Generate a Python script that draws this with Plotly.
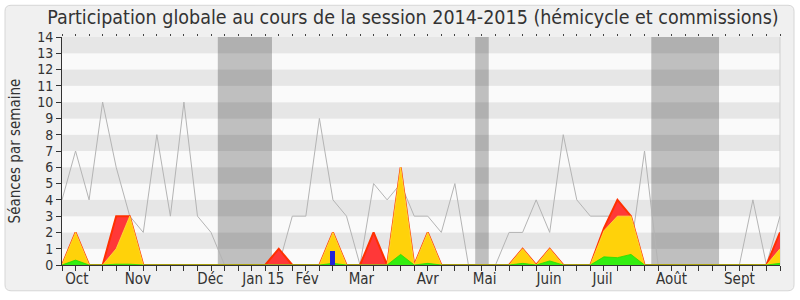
import plotly.graph_objects as go

# ---- data (weekly, session 2014-2015) ----
weeks = list(range(54))
seances_total = [4, 7, 4, 10, 6, 3, 2, 8, 3, 10, 3, 2, 0, 0, 0, 0, 0, 3, 3, 9,
                 4, 3, 0, 5, 4, 5, 3, 3, 2, 5, 0, 0, 0, 2, 2, 4, 2, 8, 4, 3,
                 3, 3, 1, 7, 0, 0, 0, 0, 0, 0, 0, 4, 0, 3]
presence_red = [0, 2, 0, 0, 3, 3, 0, 0, 0, 0, 0, 0, 0, 0, 0, 0, 1, 0, 0, 0,
                2, 0, 0, 2, 0, 6, 0, 2, 0, 0, 0, 0, 0, 0, 1, 0, 1, 0, 0, 0,
                2.25, 4, 3, 0, 0, 0, 0, 0, 0, 0, 0, 0, 0, 2]
presence_yellow = [0, 2, 0, 0, 1, 3, 0, 0, 0, 0, 0, 0, 0, 0, 0, 0, 0, 0, 0, 0,
                   2, 0, 0, 0, 0, 6, 0, 2, 0, 0, 0, 0, 0, 0, 1, 0, 1, 0, 0, 0,
                   2.1, 3, 3, 0, 0, 0, 0, 0, 0, 0, 0, 0, 0, 1]
interventions_green = [0, 0.3, 0, 0, 0.05, 0.05, 0, 0, 0, 0, 0, 0, 0, 0, 0, 0, 0, 0, 0, 0,
                       0.1, 0, 0, 0, 0, 0.65, 0, 0.1, 0, 0, 0, 0, 0, 0, 0.1, 0, 0.25, 0, 0, 0,
                       0.5, 0.45, 0.65, 0, 0, 0, 0, 0, 0, 0, 0, 0, 0, 0.1]
questions_weeks = [20]
questions_values = [0.85]
vacances = [(11.5, 15.5), (30.5, 31.5), (43.5, 48.5)]
month_pos = [1.1, 5.6, 10.95, 14.86, 18.1, 22.1, 27.0, 31.2, 35.95, 39.9, 45.0, 50.0]
month_labels = ["Oct", "Nov", "Déc", "Jan 15", "Fév", "Mar", "Avr", "Mai",
                "Juin", "Juil", "Août", "Sept"]
y_ticks = list(range(15))

FONT = "DejaVu Sans Condensed, DejaVu Sans, sans-serif"
W, H = 800, 300
ML, MR, MT, MB = 62, 20, 37, 33
PW, PH = W - ML - MR, H - MT - MB

fig = go.Figure()

fig.add_trace(go.Scatter(x=weeks, y=seances_total, mode="lines",
                         line=dict(color="#b4b4b4", width=1), hoverinfo="skip"))
fig.add_trace(go.Scatter(x=weeks, y=presence_red, mode="lines", fill="tozeroy",
                         fillcolor="#ff3838", line=dict(color="#ff3000", width=2),
                         hoverinfo="skip"))
fig.add_trace(go.Scatter(x=weeks, y=presence_yellow, mode="lines", fill="tozeroy",
                         fillcolor="#ffd20a", line=dict(color="#ffe040", width=0.8),
                         hoverinfo="skip"))
fig.add_trace(go.Scatter(x=weeks, y=interventions_green, mode="lines", fill="tozeroy",
                         fillcolor="#33ee11", line=dict(color="#22dd00", width=0.8),
                         hoverinfo="skip"))
# blue bars on the overlaying axis so they are drawn above the areas
fig.add_trace(go.Bar(x=questions_weeks, y=questions_values, width=0.37, xaxis="x2", yaxis="y",
                     marker=dict(color="#2323d8", line=dict(width=0)), hoverinfo="skip"))

shapes = []
# outer rounded frame
L = (5 - ML) / PW
R = (794 - ML) / PW
T = (H - MB - 5) / PH
B = (H - MB - 293) / PH
rx, ry = 6 / PW, 6 / PH
path = (f"M {L+rx},{T} L {R-rx},{T} Q {R},{T} {R},{T-ry} L {R},{B+ry} Q {R},{B} {R-rx},{B} "
        f"L {L+rx},{B} Q {L},{B} {L},{B+ry} L {L},{T-ry} Q {L},{T} {L+rx},{T} Z")
shapes.append(dict(type="path", xref="paper", yref="paper", path=path,
                   fillcolor="#f0f0f0", line=dict(color="#d6d6d6", width=1), layer="below"))
# stripes
for k in range(14):
    shapes.append(dict(type="rect", xref="paper", yref="y", x0=0, x1=1, y0=k, y1=k + 1,
                       fillcolor="#e6e6e6" if k % 2 == 1 else "#fafafa",
                       line=dict(width=0), layer="below"))
# holidays
for a, b in vacances:
    shapes.append(dict(type="rect", xref="x", yref="paper", x0=a, x1=b, y0=0, y1=1,
                       fillcolor="rgba(0,0,0,0.235)", line=dict(width=0), layer="below"))
# right border
shapes.append(dict(type="line", xref="paper", yref="paper", x0=1, x1=1, y0=0, y1=1,
                   line=dict(color="#cfcfcf", width=1), layer="below"))

fig.update_layout(
    width=W, height=H,
    margin=dict(l=ML, r=MR, t=MT, b=MB),
    paper_bgcolor="white", plot_bgcolor="#fafafa",
    showlegend=False, bargap=0,
    shapes=shapes,
    font=dict(family=FONT, color="#333333", size=13),
    title=dict(text="Participation globale au cours de la session 2014-2015 (hémicycle et commissions)",
               x=413 / W, xref="container", xanchor="center", y=1 - 17 / H, yref="container",
               yanchor="middle",
               font=dict(family=FONT, size=19.5, color="#333333"), pad=dict(t=0, b=0, l=0, r=0)),
    xaxis=dict(range=[0, 53], showgrid=False, zeroline=False,
               showline=True, linecolor="#333333", linewidth=1,
               tickmode="array", tickvals=month_pos, ticktext=month_labels, ticks="",
               tickfont=dict(size=15, color="#333333"),
               minor=dict(tickmode="array", tickvals=weeks, ticks="outside", ticklen=5,
                          tickcolor="#333333", tickwidth=1, showgrid=False),
               fixedrange=True),
    xaxis2=dict(range=[0, 53], overlaying="x", side="top", showgrid=False, zeroline=False,
                showline=False, tickmode="array", tickvals=weeks, ticks="outside",
                ticklen=2, tickcolor="#444444", showticklabels=False, fixedrange=True),
    yaxis=dict(range=[0, 14], showgrid=False, zeroline=False,
               showline=True, linecolor="#333333", linewidth=1,
               tickmode="array", tickvals=y_ticks, ticks="outside", ticklen=5,
               tickcolor="#333333", tickfont=dict(size=14, color="#333333"),
               title=dict(text="Séances par semaine", font=dict(size=15, color="#333333"),
                          standoff=12),
               fixedrange=True),
)

fig.write_html("out.html")
